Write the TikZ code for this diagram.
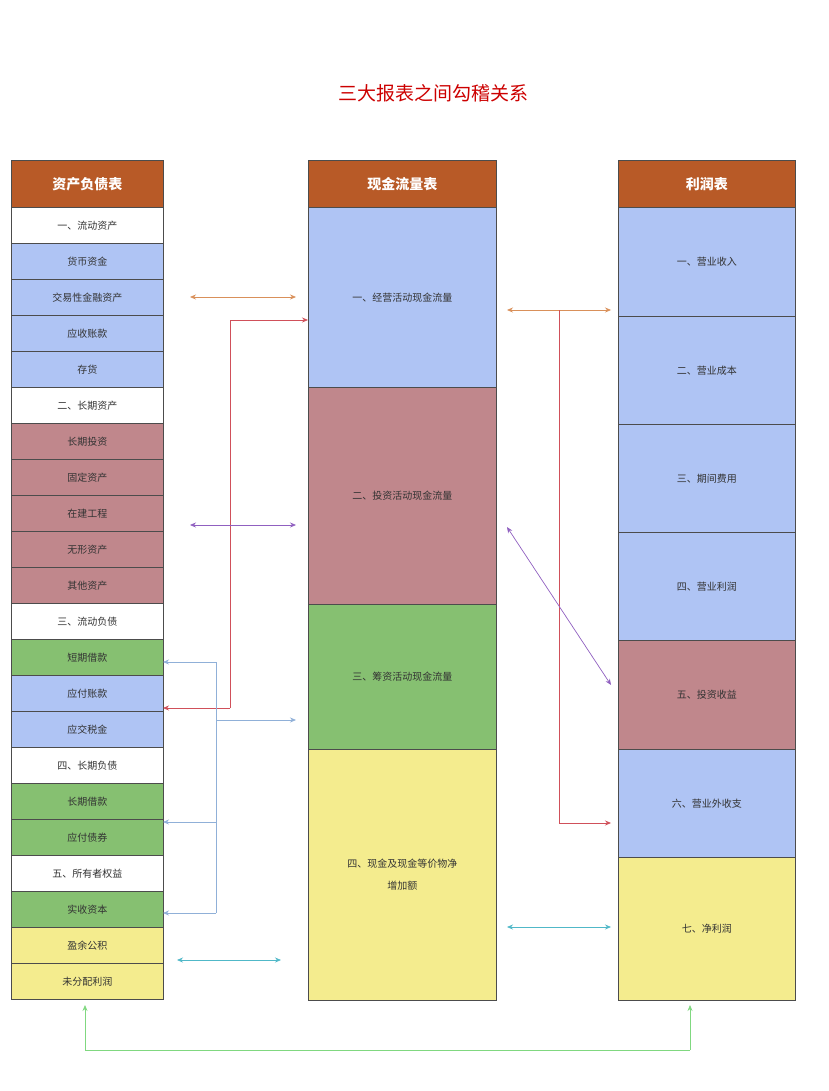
\documentclass[tikz,border=0pt]{standalone}
\usepackage{fontspec}
\setmainfont{Noto Sans CJK SC}
\usetikzlibrary{arrows.meta}
\definecolor{hb}{HTML}{B85A27}
\definecolor{cb}{HTML}{AFC4F4}
\definecolor{cr}{HTML}{C0878C}
\definecolor{cg}{HTML}{86C071}
\definecolor{cy}{HTML}{F4EC8E}
\definecolor{tx}{HTML}{333333}
\definecolor{colO}{HTML}{D9905A}
\definecolor{colR}{HTML}{D0505A}
\definecolor{colP}{HTML}{9060C0}
\definecolor{colL}{HTML}{90B0D8}
\definecolor{colT}{HTML}{50B8C8}
\definecolor{colG}{HTML}{80D880}
\tikzset{cell/.style={draw=black!70,line width=0.6pt,anchor=north west,inner sep=0pt,text=tx,font=\fontsize{10}{12}\selectfont},
 head/.style={cell,fill=hb,text=white,font=\fontsize{14}{16}\selectfont\bfseries},
 arr/.style={line width=0.7pt,-{Stealth[length=6pt,width=5pt]}},
 darr/.style={line width=0.7pt,{Stealth[length=6pt,width=5pt]}-{Stealth[length=6pt,width=5pt]}}}
\begin{document}
\begin{tikzpicture}[x=1pt,y=-1pt]
\useasboundingbox (0,0) rectangle (828,1091);
\node[text=red!80!black,font=\fontsize{19}{22}\selectfont] (title) at (433,93) {三大报表之间勾稽关系};
% left
\node[head,minimum width=152pt,minimum height=47pt] (L0) at (11,160) {资产负债表};
\foreach \t/\c [count=\i] in {一、流动资产/white,货币资金/cb,交易性金融资产/cb,应收账款/cb,存货/cb,二、长期资产/white,长期投资/cr,固定资产/cr,在建工程/cr,无形资产/cr,其他资产/cr,三、流动负债/white,短期借款/cg,应付账款/cb,应交税金/cb,四、长期负债/white,长期借款/cg,应付债券/cg,五、所有者权益/white,实收资本/cg,盈余公积/cy,未分配利润/cy}
 \node[cell,fill=\c,minimum width=152pt,minimum height=36pt] (L\i) at (11,{207+(\i-1)*36}) {\t};
% middle
\node[head,minimum width=188pt,minimum height=47pt] (M0) at (308,160) {现金流量表};
\node[cell,fill=cb,minimum width=188pt,minimum height=180pt] (M1) at (308,207) {一、经营活动现金流量};
\node[cell,fill=cr,minimum width=188pt,minimum height=217pt] (M2) at (308,387) {二、投资活动现金流量};
\node[cell,fill=cg,minimum width=188pt,minimum height=145pt] (M3) at (308,604) {三、筹资活动现金流量};
\node[cell,fill=cy,minimum width=188pt,minimum height=251pt,align=center] (M4) at (308,749) {四、现金及现金等价物净\\[10pt]增加额};
% right
\node[head,minimum width=177pt,minimum height=47pt] (R0) at (618,160) {利润表};
\foreach \t/\c/\y/\h [count=\i] in {一、营业收入/cb/207/109,二、营业成本/cb/316/108,三、期间费用/cb/424/108,四、营业利润/cb/532/108,五、投资收益/cr/640/109,六、营业外收支/cb/749/108,七、净利润/cy/857/143}
 \node[cell,fill=\c,minimum width=177pt,minimum height=\h pt] (R\i) at (618,\y) {\t};
% connectors
\coordinate (a1) at (190,297); \coordinate (a2) at (296,297);
\draw[darr,colO] (a1) -- (a2);
\coordinate (b1) at (507,310); \coordinate (b2) at (611,310);
\draw[darr,colO] (b1) -- (b2);
\coordinate (rt) at (559,310); \coordinate (rb) at (559,823); \coordinate (re) at (611,823);
\draw[arr,colR] (rt) -- (rb) -- (re);
\coordinate (s1) at (230,708); \coordinate (s2) at (230,320); \coordinate (s3) at (308,320);\coordinate (s0) at (163,708);
\draw[arr,colR] (s1) -- (s2) -- (s3);
\draw[arr,colR] (s1) -- (s0);
\coordinate (p1) at (190,525); \coordinate (p2) at (296,525);
\draw[darr,colP] (p1) -- (p2);
\coordinate (p3) at (507,527); \coordinate (p4) at (611,685);
\draw[darr,colP] (p3) -- (p4);
\coordinate (l1) at (216,662); \coordinate (l2) at (216,913); \coordinate (l3) at (216,822); \coordinate (l4) at (216,720);
\coordinate (e1) at (163,662); \coordinate (e2) at (163,913); \coordinate (e3) at (163,822); \coordinate (e4) at (296,720);
\draw[colL,line width=0.7pt] (l1) -- (l2);
\draw[arr,colL] (l1) -- (e1);
\draw[arr,colL] (l2) -- (e2);
\draw[arr,colL] (l3) -- (e3);
\draw[arr,colL] (l4) -- (e4);
\coordinate (t1) at (177,960); \coordinate (t2) at (281,960);
\draw[darr,colT] (t1) -- (t2);
\coordinate (t3) at (507,927); \coordinate (t4) at (611,927);
\draw[darr,colT] (t3) -- (t4);
\coordinate (g1) at (85,1050); \coordinate (g2) at (690,1050); \coordinate (g0) at (85,1005); \coordinate (g3) at (690,1005);
\draw[colG,line width=0.7pt] (g1) -- (g2);
\draw[arr,colG] (g1) -- (g0);
\draw[arr,colG] (g2) -- (g3);
\end{tikzpicture}
\end{document}
